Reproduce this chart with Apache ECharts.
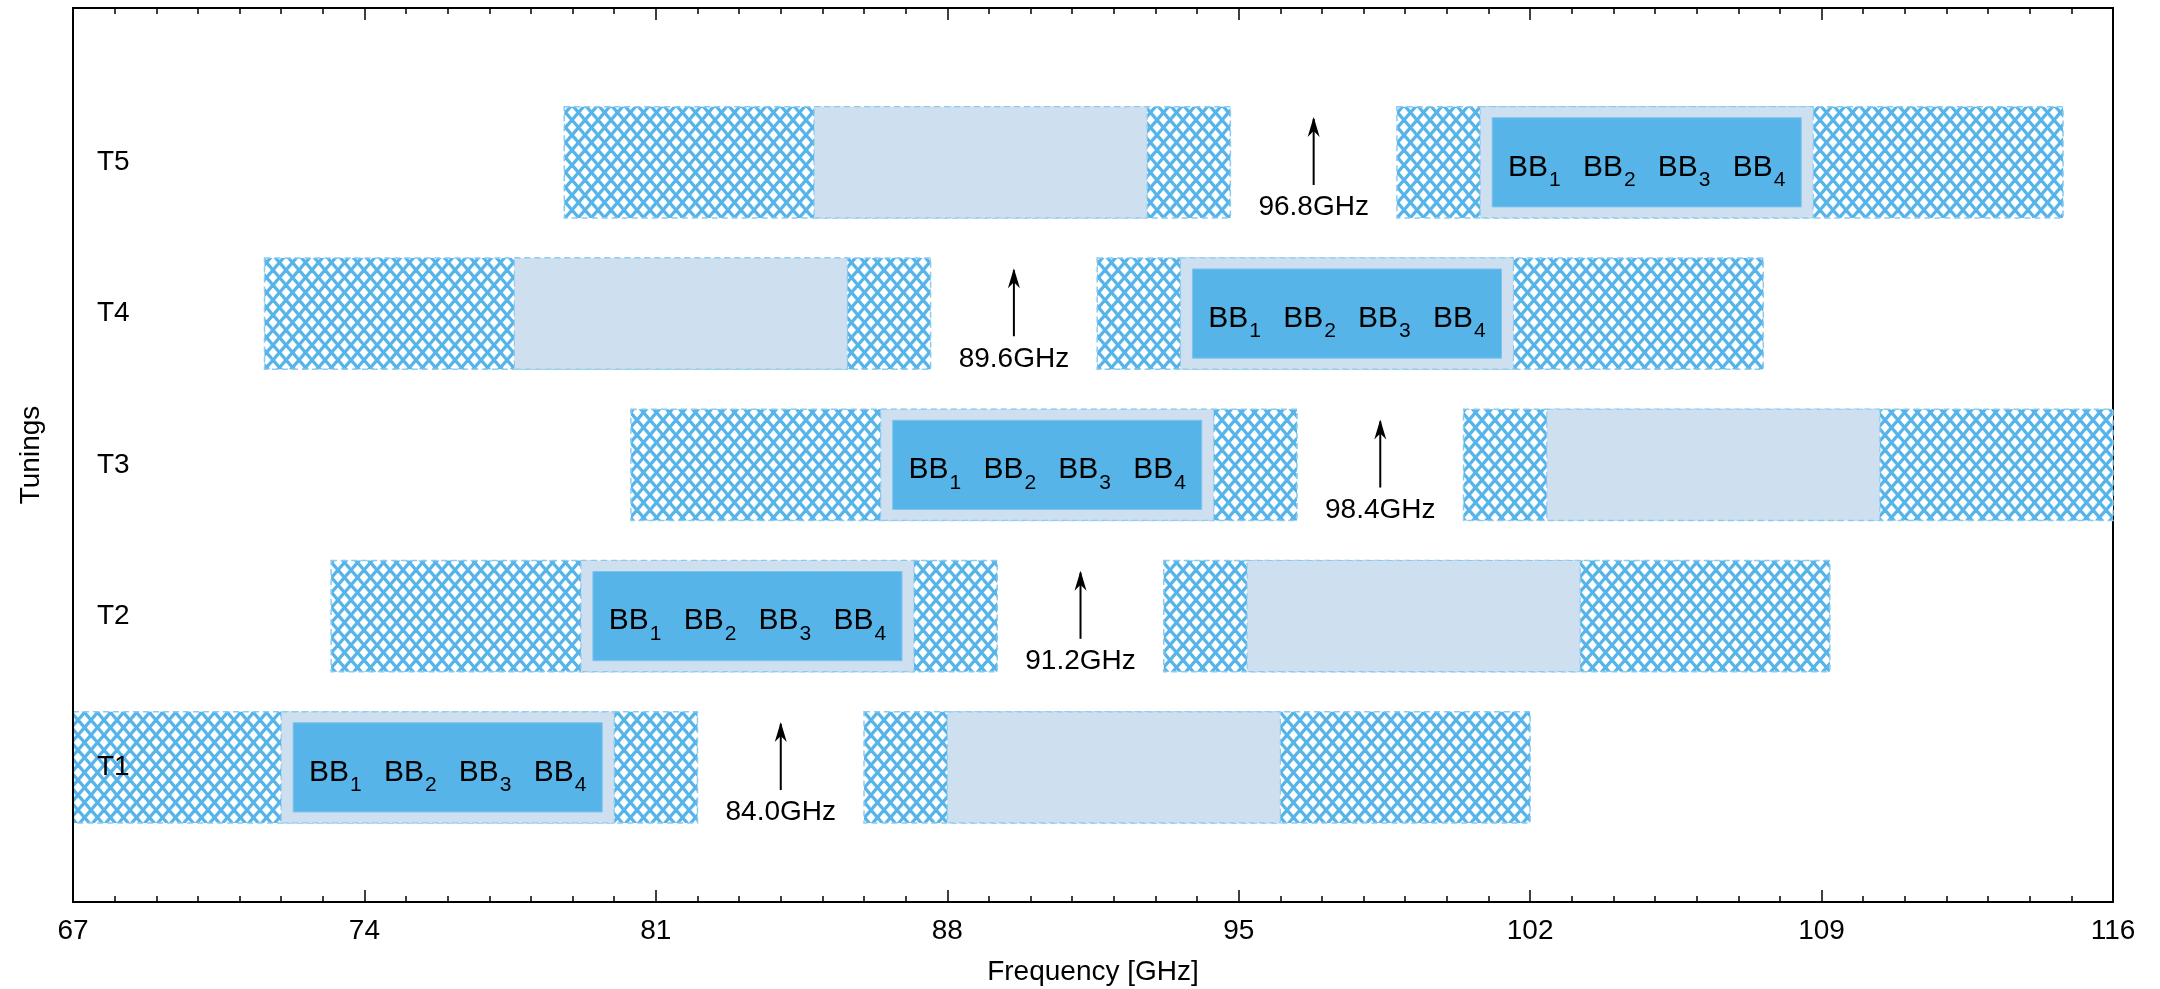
<!DOCTYPE html>
<html>
<head>
<meta charset="utf-8">
<script src="https://cdn.jsdelivr.net/npm/echarts@6/dist/echarts.min.js"></script>
<style>
html,body{margin:0;padding:0;background:#fff;}
#chart{width:2160px;height:989px;}
</style>
</head>
<body>
<div id="chart"></div>
<script>
// ---- data ----
const tunings = ['T1', 'T2', 'T3', 'T4', 'T5'];
const loFreqs = [84.0, 91.2, 98.4, 89.6, 96.8];          // LO frequency, GHz
const bbSideband = ['LSB', 'LSB', 'LSB', 'USB', 'USB'];  // sideband holding the basebands
const ifOuter = [2, 18];   // full IF range, GHz from LO
const ifInner = [4, 12];   // inner IF range, GHz from LO
const bbNames = ['1', '2', '3', '4'];
const bbSpacing = 1.8;     // GHz between baseband label centres
const xTicks = [67, 74, 81, 88, 95, 102, 109, 116];

const FONT = '"Liberation Sans", Arial, Helvetica, sans-serif';
const FS = 28;
const HATCH = '#56B4E9';
const LIGHT = '#CEDFF0';
const DARK = '#56B4E9';
const DASH = '#8DCAEE';

function makeHatch() {
  const w = 13, h = 15;
  const c = document.createElement('canvas');
  c.width = w; c.height = h;
  const g = c.getContext('2d');
  g.fillStyle = '#fff';
  g.fillRect(0, 0, w, h);
  g.strokeStyle = HATCH;
  g.lineWidth = 3.2;
  for (let dx = -w; dx <= w; dx += w) {
    g.beginPath(); g.moveTo(dx, 0); g.lineTo(dx + w, h); g.stroke();
    g.beginPath(); g.moveTo(dx + w, 0); g.lineTo(dx, h); g.stroke();
  }
  return c;
}
const hatchPattern = { image: makeHatch(), repeat: 'repeat' };

const barHalf = 0.3675;
const data = tunings.map((t, i) => [i + 1, loFreqs[i], i]);

function renderItem(params, api) {
  const row = api.value(0), lo = api.value(1), idx = api.value(2);
  const cs = params.coordSys;
  const children = [];
  const rectFor = (f0, f1) => {
    const p0 = api.coord([f0, row + barHalf]);
    const p1 = api.coord([f1, row - barHalf]);
    return { x: p0[0], y: p0[1], width: p1[0] - p0[0], height: p1[1] - p0[1] };
  };
  const rowY = api.coord([lo, row])[1];
  [-1, 1].forEach(sign => {
    const outer = sign < 0 ? [lo - ifOuter[1], lo - ifOuter[0]] : [lo + ifOuter[0], lo + ifOuter[1]];
    const inner = sign < 0 ? [lo - ifInner[1], lo - ifInner[0]] : [lo + ifInner[0], lo + ifInner[1]];
    const ro = echarts.graphic.clipRectByRect(rectFor(outer[0], outer[1]), cs);
    if (ro) children.push({ type: 'rect', shape: ro, style: { fill: hatchPattern, stroke: DASH, lineWidth: 1.5, lineDash: [6, 4] } });
    const ri = echarts.graphic.clipRectByRect(rectFor(inner[0], inner[1]), cs);
    if (ri) {
      children.push({ type: 'rect', shape: ri, style: { fill: LIGHT, stroke: DASH, lineWidth: 1.2, lineDash: [6, 4] } });
      if (bbSideband[idx] === (sign < 0 ? 'LSB' : 'USB')) {
        const d = { x: ri.x + 12, y: ri.y + 11, width: ri.width - 24, height: ri.height - 22 };
        children.push({ type: 'rect', shape: d, style: { fill: DARK, stroke: '#7cc4ee', lineWidth: 1 } });
        const mid = (inner[0] + inner[1]) / 2;
        bbNames.forEach((n, k) => {
          const p = api.coord([mid + (k - 1.5) * bbSpacing, row]);
          children.push({
            type: 'text',
            x: p[0],
            y: rowY + 5,
            style: {
              text: '{b|BB}{s|' + n + '}',
              align: 'center',
              verticalAlign: 'middle',
              rich: {
                b: { fontSize: 30, fontFamily: FONT, fill: '#000', lineHeight: 30 },
                s: { fontSize: 21, fontFamily: FONT, fill: '#000', lineHeight: 21, padding: [26, 0, 0, 1] }
              }
            }
          });
        });
      }
    }
  });
  // LO arrow + label
  const tip = api.coord([lo, row + 0.30]);
  const base = api.coord([lo, row - 0.15]);
  const lab = api.coord([lo, row - 0.30]);
  children.push({ type: 'line', shape: { x1: base[0], y1: base[1], x2: tip[0], y2: tip[1] + 2 }, style: { stroke: '#000', lineWidth: 2 } });
  children.push({ type: 'polygon', shape: { points: [[tip[0], tip[1]], [tip[0] - 6, tip[1] + 20], [tip[0], tip[1] + 14], [tip[0] + 6, tip[1] + 20]] }, style: { fill: '#000' } });
  children.push({ type: 'text', x: lab[0], y: lab[1], style: { text: lo.toFixed(1) + 'GHz', align: 'center', verticalAlign: 'middle', fontSize: FS, fontFamily: FONT, fill: '#000' } });
  return { type: 'group', children };
}

const chart = echarts.init(document.getElementById('chart'), null, { renderer: 'canvas' });
const axisLineStyle = { color: '#000', width: 2 };
chart.setOption({
  animation: false,
  backgroundColor: '#fff',
  grid: { left: 73, right: 47, top: 8, bottom: 87, show: true, borderColor: '#000', borderWidth: 2, backgroundColor: 'transparent', containLabel: false, outerBoundsMode: 'none' },
  xAxis: [{
    type: 'value', min: xTicks[0], max: xTicks[xTicks.length - 1], interval: 7,
    name: 'Frequency [GHz]', nameLocation: 'middle', nameGap: 56, nameMoveOverlap: false,
    nameTextStyle: { fontSize: FS, fontFamily: FONT, color: '#000' },
    axisLine: { show: true, lineStyle: axisLineStyle },
    axisTick: { show: true, inside: true, length: 12, lineStyle: { color: '#000', width: 1.5 } },
    minorTick: { show: true, splitNumber: 7, length: 6, lineStyle: { color: '#000', width: 1.5 } },
    axisLabel: { fontSize: FS, fontFamily: FONT, color: '#000', margin: 15 },
    splitLine: { show: false }, minorSplitLine: { show: false }
  }, {
    type: 'value', position: 'top', min: xTicks[0], max: xTicks[xTicks.length - 1], interval: 7,
    axisLine: { show: true, lineStyle: axisLineStyle },
    axisTick: { show: true, inside: true, length: 12, lineStyle: { color: '#000', width: 1.5 } },
    minorTick: { show: true, splitNumber: 7, length: 6, lineStyle: { color: '#000', width: 1.5 } },
    axisLabel: { show: false }, splitLine: { show: false }
  }],
  yAxis: {
    type: 'value', min: 0.11, max: 6.02, z: 10,
    name: 'Tunings', nameLocation: 'middle', nameGap: 28, nameMoveOverlap: false,
    nameTextStyle: { fontSize: FS, fontFamily: FONT, color: '#000' },
    axisLine: { show: true, lineStyle: axisLineStyle },
    axisTick: { show: false },
    splitLine: { show: false },
    axisLabel: {
      show: true, inside: true, margin: 24, fontSize: FS, fontFamily: FONT, color: '#000',
      showMinLabel: true, showMaxLabel: true, hideOverlap: false,
      customValues: [1, 2, 3, 4, 5],
      formatter: v => tunings[Math.round(v) - 1]
    }
  },
  series: [{
    type: 'custom',
    renderItem,
    data,
    encode: { x: 1, y: 0 },
    z: 2
  }]
});
</script>
</body>
</html>
